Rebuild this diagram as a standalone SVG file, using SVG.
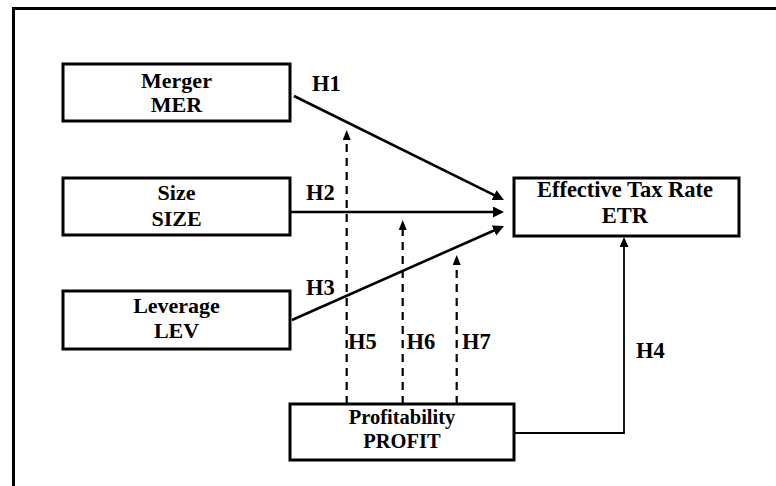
<svg xmlns="http://www.w3.org/2000/svg" width="776" height="486" viewBox="0 0 776 486">
<style>
.box{fill:#fff;stroke:#000;stroke-width:3}
.t{font-family:"Liberation Serif","Times New Roman",serif;font-weight:bold;fill:#000}
.c{text-anchor:middle}
.solid{fill:none;stroke:#000;stroke-width:2.6}
.dash{fill:none;stroke:#000;stroke-width:2.2;stroke-dasharray:8,6}
.thin{fill:none;stroke:#000;stroke-width:1.8}
</style>
<defs>
<marker id="ah" markerUnits="userSpaceOnUse" markerWidth="12" markerHeight="12" refX="8" refY="5.5" orient="auto">
<path d="M0,0 L11,5.5 L0,11 z" fill="#000"/>
</marker>
<marker id="ahd" markerUnits="userSpaceOnUse" markerWidth="11" markerHeight="10" refX="7" refY="4" orient="auto">
<path d="M0,0 L10,4 L0,8 z" fill="#000"/>
</marker>
<marker id="ah4" markerUnits="userSpaceOnUse" markerWidth="11" markerHeight="10" refX="7" refY="4.5" orient="auto">
<path d="M0,0 L10,4.5 L0,9 z" fill="#000"/>
</marker>
</defs>
<path d="M13.5,486 V8.5 H776" fill="none" stroke="#000" stroke-width="3"/>
<g id="connectors">
<path class="solid" d="M294,96 L501.3,198.7" marker-end="url(#ah)"/>
<path class="solid" d="M291,212 L501,212" marker-end="url(#ah)"/>
<path class="solid" d="M292,320 L501.3,227.2" marker-end="url(#ah)"/>
<path class="dash" d="M346.7,404 V133" marker-end="url(#ahd)"/>
<path class="dash" d="M402.7,404 V223" marker-end="url(#ahd)"/>
<path class="dash" d="M456.7,404 V258" marker-end="url(#ahd)"/>
<path class="thin" d="M514,433 H624 V240" marker-end="url(#ah4)"/>
<g class="t" font-size="22.5">
<text x="312" y="91">H1</text>
<text x="306" y="200">H2</text>
<text x="306" y="295">H3</text>
<text x="636" y="358">H4</text>
<text x="348" y="349">H5</text>
<text x="406.5" y="349">H6</text>
<text x="462" y="349">H7</text>
</g>
</g>
<g id="merger">
<rect class="box" x="63" y="64" width="227" height="57"/>
<text class="t c" font-size="22" x="176.5" y="88">Merger</text>
<text class="t c" font-size="22" x="176.5" y="111.5">MER</text>
</g>
<g id="size">
<rect class="box" x="63" y="178" width="227" height="57"/>
<text class="t c" font-size="22" x="176.5" y="200">Size</text>
<text class="t c" font-size="22" x="176.5" y="226">SIZE</text>
</g>
<g id="leverage">
<rect class="box" x="63" y="291" width="227" height="58"/>
<text class="t c" font-size="22" x="176.5" y="313">Leverage</text>
<text class="t c" font-size="22" x="176.5" y="338">LEV</text>
</g>
<g id="etr">
<rect class="box" x="514" y="178" width="225" height="58"/>
<text class="t c" font-size="22.5" x="625" y="197">Effective Tax Rate</text>
<text class="t c" font-size="22.5" x="625" y="223">ETR</text>
</g>
<g id="profit">
<rect class="box" x="290" y="404" width="224" height="56"/>
<text class="t c" font-size="20.5" x="402" y="424">Profitability</text>
<text class="t c" font-size="20.5" x="402" y="448">PROFIT</text>
</g>
</svg>
